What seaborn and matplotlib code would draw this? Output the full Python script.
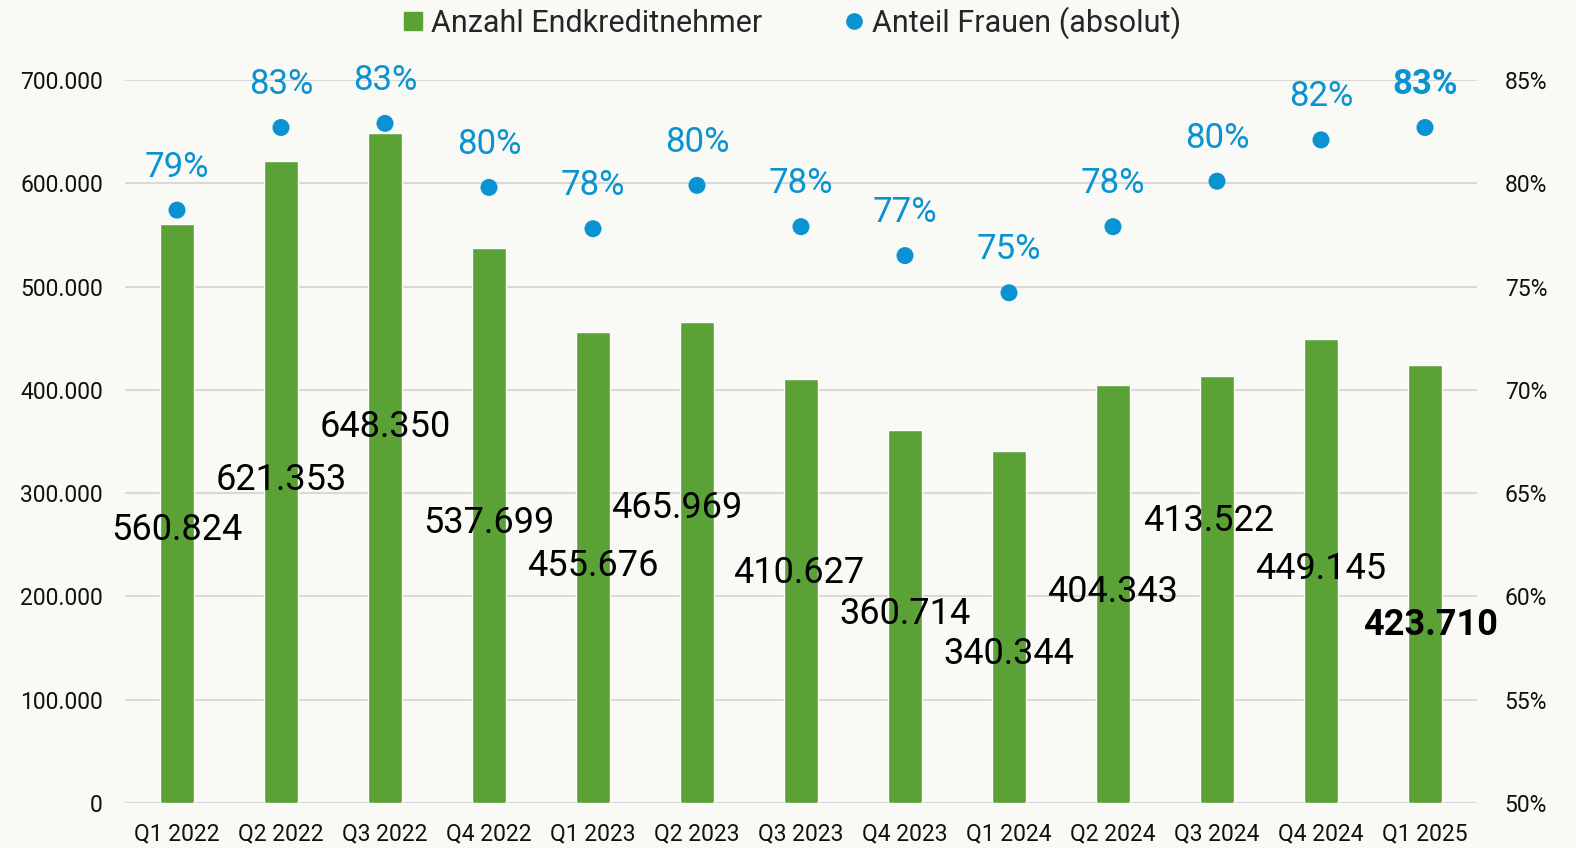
import seaborn as sns
import matplotlib.pyplot as plt
import matplotlib.ticker as mticker
from matplotlib.lines import Line2D
import pandas as pd

# quarters and values
quarters = ["Q1 2022", "Q2 2022", "Q3 2022", "Q4 2022", "Q1 2023", "Q2 2023", "Q3 2023",
            "Q4 2023", "Q1 2024", "Q2 2024", "Q3 2024", "Q4 2024", "Q1 2025"]
borrowers = [560824, 621353, 648350, 537699, 455676, 465969, 410627,
             360714, 340344, 404343, 413522, 449145, 423710]
women_share = [78.7, 82.7, 82.9, 79.8, 77.8, 79.9, 77.9, 76.5, 74.7, 77.9, 80.1, 82.1, 82.7]
women_labels = ["79%", "83%", "83%", "80%", "78%", "80%", "78%", "77%", "75%", "78%", "80%", "82%", "83%"]

# where the bar labels sit (y in persons, x shift in categories)
label_y = [264000, 312700, 364000, 271000, 229000, 285600, 222700,
           183000, 144000, 204000, 273000, 226500, 172000]
label_dx = [0, 0, 0, 0, 0, -0.2, -0.02, 0, 0, 0, -0.08, 0, 0.05]

GREEN = "#5aa235"
BLUE = "#0a93d2"
BG = "#f9f9f5"

sns.set_theme(style="white")
plt.rcParams["font.family"] = ["Roboto", "DejaVu Sans"]

df = pd.DataFrame({"Quartal": quarters, "Anzahl": borrowers, "Frauen": women_share})

fig = plt.figure(figsize=(15.76, 8.48), dpi=100, facecolor=BG)
ax = fig.add_axes([125 / 1576, 1 - 803 / 848, (1477 - 125) / 1576, (803 - 80) / 848])
ax.set_facecolor(BG)

sns.barplot(data=df, x="Quartal", y="Anzahl", color=GREEN, width=0.32,
            saturation=1, ax=ax, zorder=3)
ax.set_ylim(0, 700000)
ax.set_xlim(-0.5, len(quarters) - 0.5)
ax.yaxis.set_major_locator(mticker.MultipleLocator(100000))
ax.yaxis.set_major_formatter(mticker.FuncFormatter(lambda v, p: f"{int(v):,}".replace(",", ".")))
ax.grid(axis="y", color="#d9d9d9", lw=1.5, zorder=0)
ax.set_xlabel("")
ax.set_ylabel("")
ax.tick_params(axis="y", length=0, labelsize=16.5, colors="#111111", pad=16)
ax.tick_params(axis="x", length=0, labelsize=16.5, colors="#111111", pad=14)
for s in ax.spines.values():
    s.set_visible(False)

for i, v in enumerate(borrowers):
    last = i == len(borrowers) - 1
    ax.text(i + label_dx[i], label_y[i], f"{v:,}".replace(",", "."), ha="center", va="center",
            fontsize=26, color="black", fontweight="bold" if last else "normal", zorder=5)

ax2 = ax.twinx()
sns.scatterplot(data=df, x="Quartal", y="Frauen", color=BLUE, s=150, edgecolor="none",
                ax=ax2, zorder=4)
ax2.set_ylim(50, 85)
ax2.yaxis.set_major_locator(mticker.MultipleLocator(5))
ax2.yaxis.set_major_formatter(mticker.FuncFormatter(lambda v, p: f"{int(v)}%"))
ax2.tick_params(axis="y", length=0, labelsize=16.5, colors="#111111", pad=20)
ax2.set_ylabel("")
for s in ax2.spines.values():
    s.set_visible(False)

for i, (v, t) in enumerate(zip(women_share, women_labels)):
    last = i == len(women_share) - 1
    ax2.annotate(t, (i, v), xytext=(0, 31), textcoords="offset points", ha="center",
                 va="center", fontsize=25, color=BLUE, fontweight="bold" if last else "normal")

handles = [Line2D([], [], marker="s", ls="", color=GREEN, markersize=13),
           Line2D([], [], marker="o", ls="", color=BLUE, markersize=11)]
fig.legend(handles, ["Anzahl Endkreditnehmer", "Anteil Frauen (absolut)"], loc="upper center",
           bbox_to_anchor=(0.5, 1.025), ncol=2, frameon=False, fontsize=22,
           handletextpad=0.0, handlelength=1.2, columnspacing=2.4)

fig.savefig("out.png", dpi=100, facecolor=BG)
